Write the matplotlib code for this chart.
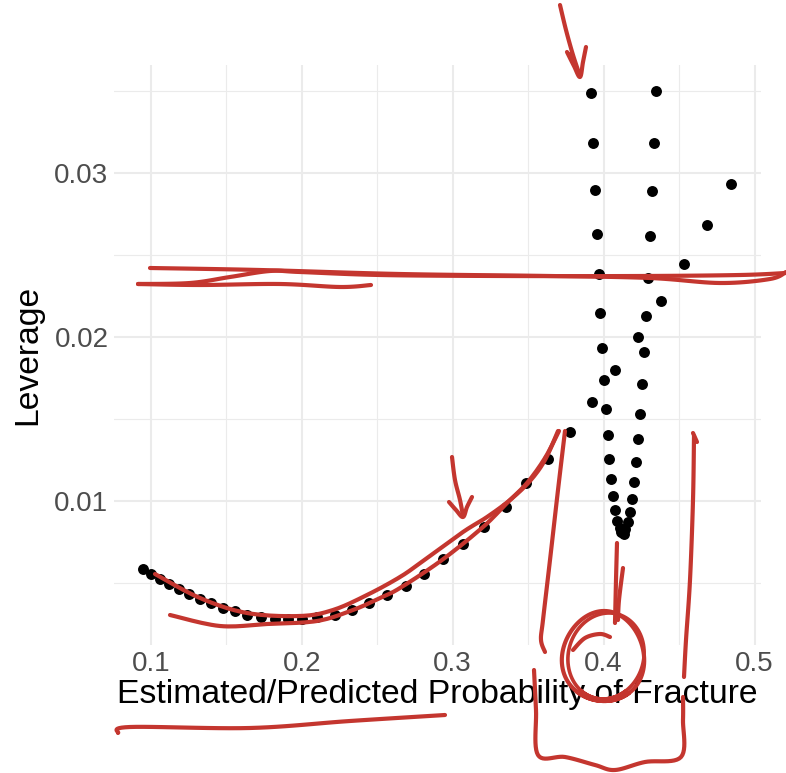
import numpy as np
import matplotlib
matplotlib.use("Agg")
import matplotlib.pyplot as plt
from matplotlib.lines import Line2D

# Datos
lower_x = [0.0947, 0.1004, 0.1062, 0.1123, 0.1189, 0.1256, 0.1326, 0.1401, 0.1481,
           0.1560, 0.1640, 0.1728, 0.1821, 0.1909, 0.2002, 0.2101, 0.2221, 0.2331,
           0.2448, 0.2567, 0.2689, 0.2810, 0.2934, 0.3070, 0.3207, 0.3351, 0.3485,
           0.3629, 0.3777, 0.3922, 0.4073, 0.4225, 0.4379, 0.4532, 0.4686, 0.4843]
lower_y = [0.00585, 0.00557, 0.00526, 0.00494, 0.00463, 0.00433, 0.00402, 0.00376,
           0.00349, 0.00327, 0.00307, 0.00291, 0.00282, 0.00280, 0.00280, 0.00290,
           0.00305, 0.00335, 0.00376, 0.00427, 0.00484, 0.00553, 0.00645, 0.00736,
           0.00843, 0.00965, 0.01108, 0.01256, 0.01423, 0.01604, 0.01797, 0.02002,
           0.02220, 0.02445, 0.02685, 0.02931]

left_arm_x = [0.3916, 0.3927, 0.3940, 0.3954, 0.3967, 0.3978, 0.3989, 0.4002, 0.4015,
              0.4029, 0.4037, 0.4050, 0.4064, 0.4077, 0.4090, 0.4108, 0.4126]
left_arm_y = [0.03486, 0.03181, 0.02896, 0.02628, 0.02382, 0.02146, 0.01931, 0.01738,
              0.01559, 0.01401, 0.01258, 0.01136, 0.01032, 0.00945, 0.00878, 0.00834,
              0.00803]

right_arm_x = [0.4348, 0.4334, 0.4321, 0.4308, 0.4295, 0.4278, 0.4265, 0.4252, 0.4238,
               0.4227, 0.4214, 0.4203, 0.4189, 0.4176, 0.4163, 0.4141, 0.4118, 0.4135]
right_arm_y = [0.03498, 0.03185, 0.02892, 0.02618, 0.02362, 0.02126, 0.01910, 0.01712,
               0.01532, 0.01376, 0.01236, 0.01116, 0.01010, 0.00931, 0.00870, 0.00827,
               0.00810, 0.00800]

x_ticks = [0.1, 0.2, 0.3, 0.4, 0.5]
y_ticks = [0.01, 0.02, 0.03]

W, H = 786, 773
fig = plt.figure(figsize=(W / 100, H / 100), dpi=100)
ax = fig.add_axes([114 / W, 1 - 645 / H, (761 - 114) / W, (645 - 65) / H])

font = "Liberation Sans"
grid = "#EBEBEB"

ax.set_xlim(0.0757, 0.5042)
ax.set_ylim(0.00122, 0.03659)
ax.set_xticks(x_ticks)
ax.set_yticks(y_ticks)
ax.set_xticks([0.15, 0.25, 0.35, 0.45], minor=True)
ax.set_yticks([0.005, 0.015, 0.025, 0.035], minor=True)
ax.set_xticklabels([str(t) for t in x_ticks])
ax.set_yticklabels([str(t) for t in y_ticks])
ax.grid(True, which="major", color=grid, linewidth=1.5)
ax.grid(True, which="minor", color=grid, linewidth=0.8)
ax.set_axisbelow(True)
ax.tick_params(which="both", length=0)
ax.tick_params(axis="both", labelsize=20, labelcolor="#4D4D4D", pad=4)
for lab in ax.get_xticklabels() + ax.get_yticklabels():
    lab.set_fontfamily(font)
for s in ax.spines.values():
    s.set_visible(False)

ax.set_xlabel("Estimated/Predicted Probability of Fracture", fontsize=24.3,
              family=font, labelpad=2)
ax.set_ylabel("Leverage", fontsize=24.3, family=font, labelpad=8)

# Puntos
pts = dict(s=62, color="black", linewidths=0, zorder=3)
ax.scatter(lower_x, lower_y, **pts)
ax.scatter(left_arm_x, left_arm_y, **pts)
ax.scatter(right_arm_x, right_arm_y, **pts)


# Trazos a mano (en pixeles de la figura)
def smooth(points, n=12):
    p = np.array(points, dtype=float)
    if len(p) < 3:
        return p
    p = np.vstack([p[0], p, p[-1]])
    out = []
    for i in range(1, len(p) - 2):
        p0, p1, p2, p3 = p[i - 1], p[i], p[i + 1], p[i + 2]
        for t in np.linspace(0, 1, n, endpoint=False):
            t2, t3 = t * t, t * t * t
            out.append(0.5 * ((2 * p1) + (-p0 + p2) * t
                              + (2 * p0 - 5 * p1 + 4 * p2 - p3) * t2
                              + (-p0 + 3 * p1 - 3 * p2 + p3) * t3))
    out.append(p[-2])
    return np.array(out)


red = "#C4362F"


def stroke(points, lw=3.0):
    p = smooth(points)
    fig.add_artist(Line2D(p[:, 0] / W, 1 - p[:, 1] / H, color=red, lw=lw,
                          solid_capstyle="round", solid_joinstyle="round",
                          transform=fig.transFigure, zorder=10))


# flecha de arriba
stroke([(560, 5), (566, 30), (573, 55), (580, 76)])
stroke([(567, 52), (574, 66), (580, 77), (583, 62), (586, 47)])
stroke([(570, 54), (577, 70), (581, 74)])

# linea horizontal doble
stroke([(150, 268), (260, 270), (400, 274), (550, 276), (650, 278), (720, 283),
        (770, 279), (786, 272)])
stroke([(786, 273), (740, 275), (640, 276), (500, 276), (380, 275), (300, 272),
        (270, 271), (230, 277), (190, 283), (138, 284)])
stroke([(138, 284), (200, 285), (280, 284), (340, 287), (371, 285)])

# curva inferior
stroke([(155, 574), (200, 598), (247, 613), (300, 616), (333, 610), (367, 595),
        (400, 577), (423, 561), (463, 532), (487, 517), (510, 500), (530, 481),
        (545, 460), (558, 431)])
stroke([(170, 615), (220, 626), (267, 624), (317, 621), (353, 610), (380, 598),
        (400, 588), (442, 560), (483, 527), (507, 503), (527, 483), (545, 458),
        (559, 431)])

# flecha pequena
stroke([(452, 457), (455, 480), (460, 500), (463, 516)])
stroke([(449, 502), (456, 510), (463, 517), (467, 507), (472, 497)])

# lineas verticales
stroke([(565, 431), (558, 490), (550, 560), (543, 620), (541, 640), (545, 652)])
stroke([(693, 433), (697, 442)])
stroke([(694, 436), (693, 500), (690, 580), (686, 640), (684, 677)])

# corchete de abajo
stroke([(534, 670), (536, 710), (538, 755), (565, 757), (595, 765), (615, 770),
        (645, 762), (681, 757), (683, 720), (683, 697)])

# linea desde el fondo de la V
stroke([(617, 543), (616, 580), (615, 623)])
stroke([(623, 568), (619, 600), (618, 620)])

# circulo alrededor de 0.4
t = np.linspace(0.3 * np.pi, 2.7 * np.pi, 120)
cx, cy = 603, 656
ex = cx + 41 * np.cos(t) + 2 * np.sin(2 * t)
ey = cy + 45 * np.sin(t) * (1 + 0.03 * np.cos(t))
fig.add_artist(Line2D(ex / W, 1 - ey / H, color=red, lw=3.0,
                      solid_capstyle="round", transform=fig.transFigure, zorder=10))
ex2 = cx + 3 + 38 * np.cos(t) - 3 * np.sin(t)
ey2 = cy + 43 * np.sin(t)
fig.add_artist(Line2D(ex2 / W, 1 - ey2 / H, color=red, lw=2.6,
                      solid_capstyle="round", transform=fig.transFigure, zorder=10))
stroke([(573, 650), (585, 638), (600, 634), (610, 637)])

# subrayado del titulo
stroke([(118, 733), (130, 727), (250, 728), (350, 721), (445, 715)])

fig.savefig("out.png", dpi=100)
